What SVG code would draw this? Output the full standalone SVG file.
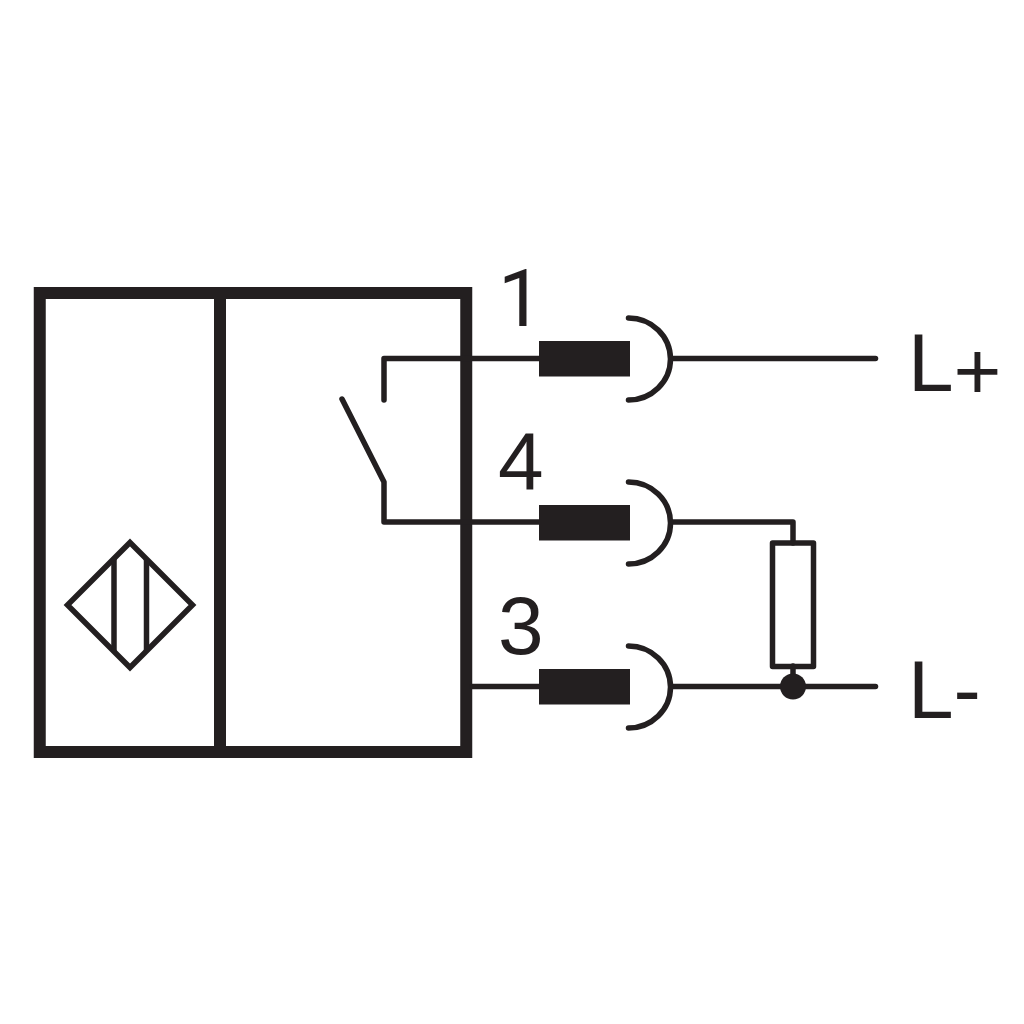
<svg xmlns="http://www.w3.org/2000/svg" width="1024" height="1024" viewBox="0 0 1024 1024">
<style>
.w{fill:none;stroke:#231f20;stroke-width:5.500;stroke-linecap:round;stroke-linejoin:round}
.t{font-family:"Liberation Sans",Arial,sans-serif;font-size:82px;fill:#231f20}
.p{fill:#231f20}
</style>
<rect width="1024" height="1024" fill="#fff"/>
<g id="housing"><rect x="39.750" y="293" width="426.500" height="459" fill="none" stroke="#231f20" stroke-width="12"/><line x1="220" y1="293" x2="220" y2="752" stroke="#231f20" stroke-width="12"/></g>
<g id="sensor" class="w"><path d="M130 542.500L192.500 605L130 667.500L67.500 605Z" style="stroke-linejoin:miter"/><line x1="114" y1="559" x2="114" y2="651" style="stroke-linecap:butt"/><line x1="146.500" y1="559" x2="146.500" y2="651" style="stroke-linecap:butt"/></g>
<g id="connectors" class="w">
<path d="M384 400V358.500H540"/><path d="M342 399L384 482V522H540"/><line x1="472" y1="686.500" x2="540" y2="686.500"/>
<line x1="671" y1="358.500" x2="875.500" y2="358.500"/><path d="M671 522H793V543"/><line x1="671" y1="686.500" x2="875.500" y2="686.500"/><line x1="793" y1="666" x2="793" y2="686"/>
</g>
<g id="pin1"><rect class="p" x="539" y="341" width="91" height="35.500"/><path class="w" d="M628.500 318A42 41 0 0 1 628.500 400"/></g>
<g id="pin4"><rect class="p" x="539" y="505" width="91" height="35.500"/><path class="w" d="M628.500 482A42 41 0 0 1 628.500 564"/></g>
<g id="pin3"><rect class="p" x="539" y="669" width="91" height="35.500"/><path class="w" d="M628.500 646A42 41 0 0 1 628.500 728"/></g>
<g id="load"><rect class="w" x="772.500" y="543" width="41" height="123.500"/><circle class="p" cx="793" cy="686.500" r="13"/></g>
<g id="labels">
<text class="t" x="498" y="325.500" style="font-family:Roboto,sans-serif;font-size:80px">1</text><text class="t" x="498" y="490">4</text><text class="t" x="498" y="654">3</text>
<text class="t" x="908" y="391">L<tspan dy="8">+</tspan></text><text class="t" x="908" y="717.500">L-</text>
</g>
</svg>
